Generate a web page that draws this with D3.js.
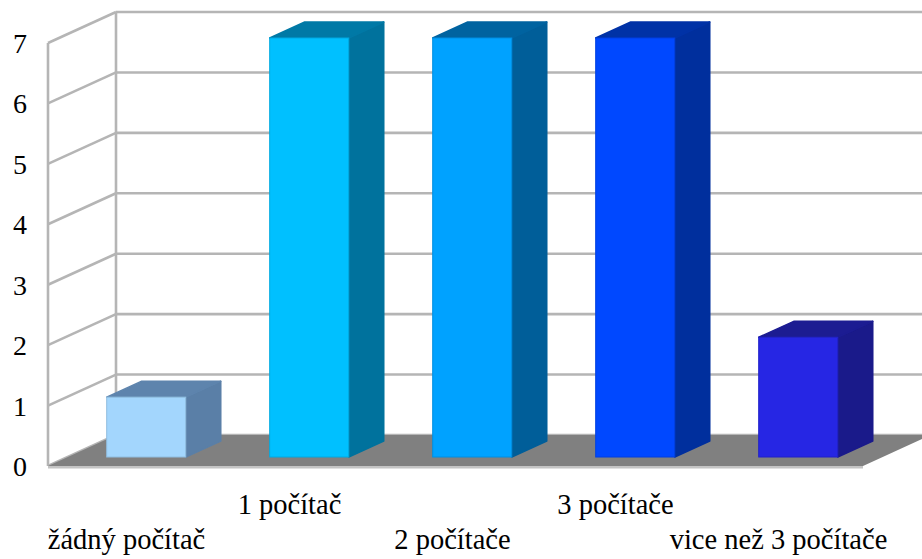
<!DOCTYPE html>
<html><head><meta charset="utf-8"><script src="https://cdn.jsdelivr.net/npm/d3@7/dist/d3.min.js"></script></head>
<body style="margin:0">
<svg id="chart" width="922" height="559" style="font-family: 'Liberation Serif'"></svg>
<script>
// Number of computers per household
const categories = ["žádný počítač", "1 počítač", "2 počítače", "3 počítače", "vice než 3 počítače"];
const values = [1, 7, 7, 7, 2];
const tickValues = [0, 1, 2, 3, 4, 5, 6, 7];

// Face colours per bar: front, side, top
const frontColors = ["#a3d6fd", "#00c0ff", "#00a2ff", "#0048ff", "#2626e4"];
const sideColors  = ["#5a7fa7", "#00729d", "#005e99", "#002f9d", "#1a1a8a"];
const topColors   = ["#5e84ad", "#0079a6", "#0063a0", "#0032a6", "#1c1c92"];

const W = 922, H = 559;
const svg = d3.select("#chart");

// Oblique projection: depth z in [0,1] shifts right and up
const DEPTH_X = 68, DEPTH_Y = -31;
const proj = (x, y, z) => [x + DEPTH_X * z, y + DEPTH_Y * z];

// Front-plane scales
const x = d3.scaleBand().domain(categories).range([45, 860]).paddingInner(0.515).paddingOuter(0.2575);
const y = d3.scaleLinear().domain([0, 7]).range([466, 43]);
const barH = d3.scaleLinear().domain([0, 7]).range([0, 419]);

const left = 48, right = 863;
const floorY = y(0);
const gridColor = "#b5b5b5";

// Back wall and side wall grid
const grid = svg.append("g");
tickValues.forEach(t => {
  const [bx, by] = proj(left, y(t), 1);
  grid.append("line")
    .attr("x1", bx).attr("y1", by).attr("x2", W + 20).attr("y2", by)
    .attr("stroke", gridColor).attr("stroke-width", 2.6);
  grid.append("line")
    .attr("x1", left).attr("y1", y(t)).attr("x2", bx).attr("y2", by)
    .attr("stroke", gridColor).attr("stroke-width", 2.6);
});
{
  const [bx, byTop] = proj(left, y(7), 1);
  const [, byBot] = proj(left, y(0), 1);
  grid.append("line").attr("x1", bx).attr("y1", byTop).attr("x2", bx).attr("y2", byBot)
    .attr("stroke", gridColor).attr("stroke-width", 2.6);
  grid.append("line").attr("x1", left).attr("y1", y(7)).attr("x2", left).attr("y2", floorY)
    .attr("stroke", gridColor).attr("stroke-width", 2.6);
}

// Floor
const floorPts = [proj(left, floorY, 0), proj(left, floorY, 1), proj(right, floorY, 1), proj(right, floorY, 0)];
svg.append("polygon").attr("points", floorPts.map(p => p.join(",")).join(" ")).attr("fill", "#808080");
svg.append("line").attr("x1", left).attr("y1", floorY + 1.2).attr("x2", right).attr("y2", floorY + 1.2)
  .attr("stroke", "#c4c4c4").attr("stroke-width", 2.4);

// Bars
const zFront = 0.29, zBack = 0.805;
const bars = svg.append("g");
categories.forEach((c, i) => {
  const x0 = x(c), x1 = x(c) + x.bandwidth();
  const [fx0, fyb] = proj(x0, floorY, zFront);
  const [fx1] = proj(x1, floorY, zFront);
  const fyt = fyb - barH(values[i]);
  const dx = DEPTH_X * (zBack - zFront), dy = DEPTH_Y * (zBack - zFront);
  const poly = pts => pts.map(p => p.join(",")).join(" ");
  // side face
  bars.append("polygon")
    .attr("points", poly([[fx1, fyt], [fx1 + dx, fyt + dy], [fx1 + dx, fyb + dy], [fx1, fyb]]))
    .attr("fill", sideColors[i]).attr("stroke", sideColors[i]).attr("stroke-width", 1.5).attr("stroke-linejoin", "round");
  // top face
  bars.append("polygon")
    .attr("points", poly([[fx0, fyt], [fx0 + dx, fyt + dy], [fx1 + dx, fyt + dy], [fx1, fyt]]))
    .attr("fill", topColors[i]).attr("stroke", topColors[i]).attr("stroke-width", 1.5).attr("stroke-linejoin", "round");
  // front face
  bars.append("rect")
    .attr("x", fx0).attr("y", fyt).attr("width", fx1 - fx0).attr("height", fyb - fyt)
    .attr("fill", frontColors[i])
    .attr("stroke", d3.color(frontColors[i]).darker(0.35)).attr("stroke-width", 1);
});

// Y axis labels
svg.append("g").selectAll("text").data(tickValues).join("text")
  .attr("x", 20).attr("y", d => y(d) + 10)
  .attr("text-anchor", "middle")
  .style("font-family", () => `"Liberation Serif"`)
  .attr("font-size", 28)
  .text(d => d);

// Category labels, staggered on two rows
svg.append("g").selectAll("text").data(categories).join("text")
  .attr("x", d => x(d) + x.bandwidth() / 2)
  .attr("y", (d, i) => i % 2 === 1 ? 514 : 549)
  .attr("text-anchor", "middle")
  .style("font-family", () => `"Liberation Serif"`)
  .attr("font-size", 28.5)
  .text(d => d);
</script>
</body>
</html>
